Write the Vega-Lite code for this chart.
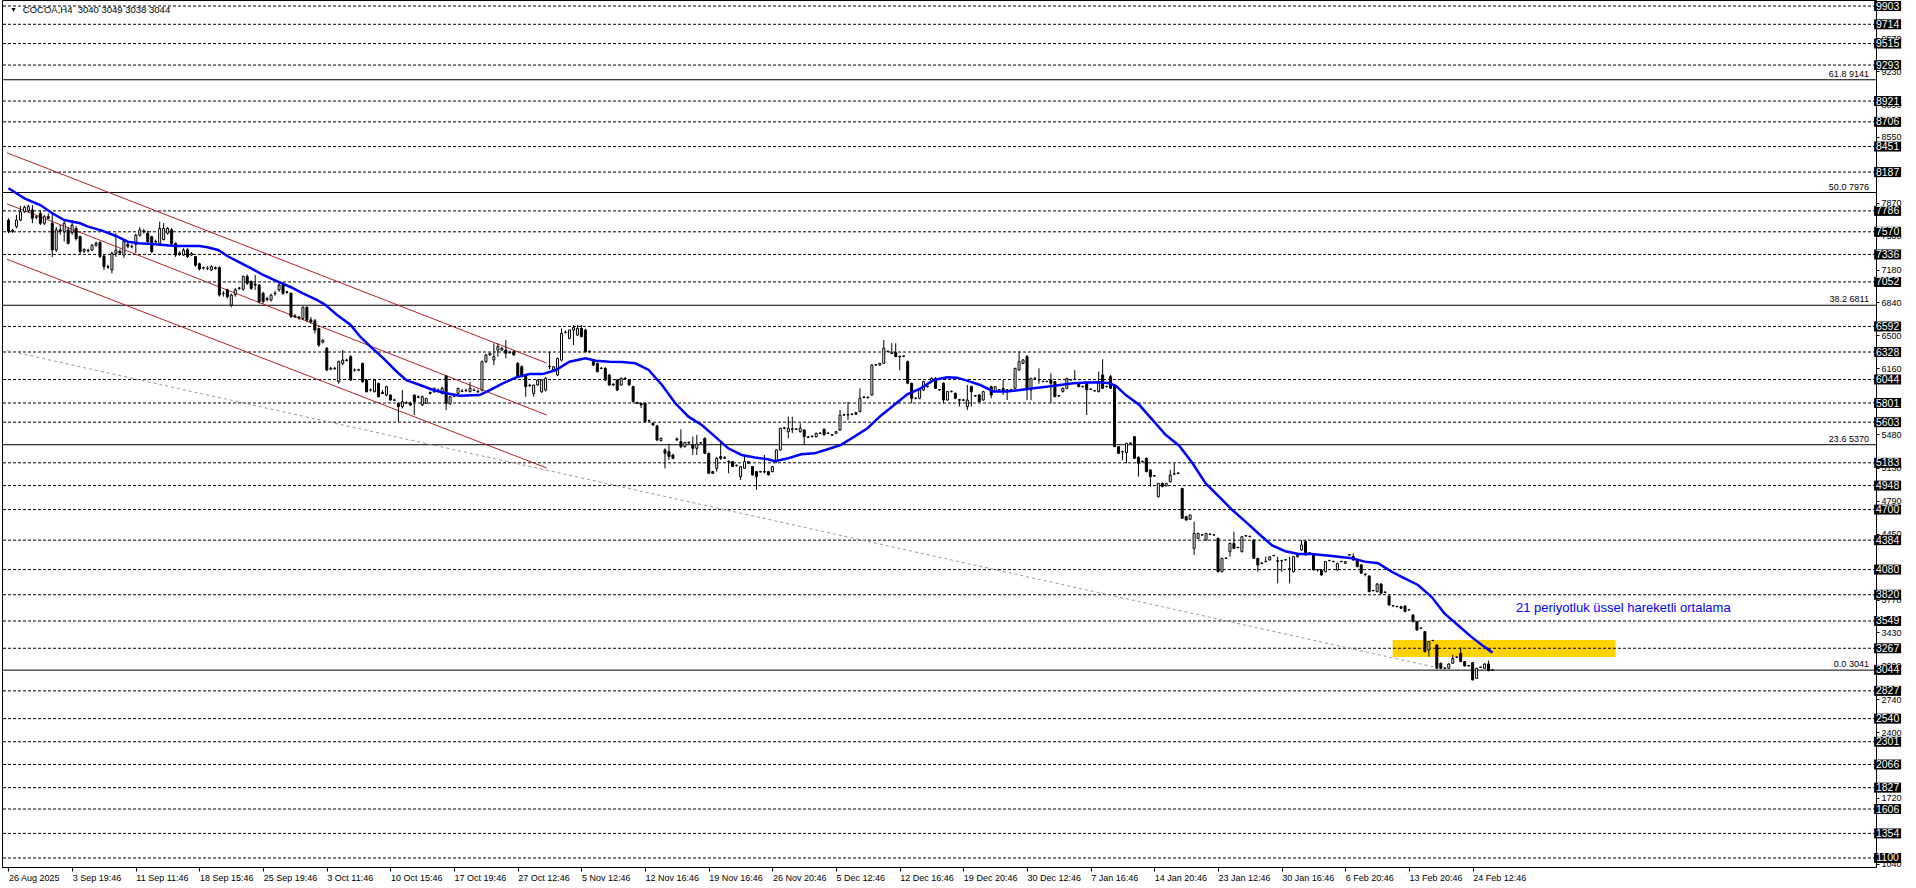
{
"$schema": "https://vega.github.io/schema/vega-lite/v6.json",
"width": 1874, "height": 867,
"autosize": {"type": "none"},
"padding": {"left": 2, "top": 0, "right": 40, "bottom": 21},
"background": "white",
"config": {"view": {"stroke": "black", "strokeWidth": 1}, "font": "Liberation Sans"},
"datasets": {
"candles": [
{"i":0,"o":7690,"h":7710,"l":7555,"c":7575},{"i":1,"o":7585,"h":7600,"l":7560,"c":7575},{"i":2,"o":7624,"h":7744,"l":7606,"c":7692},{"i":3,"o":7692,"h":7837,"l":7680,"c":7778},{"i":4,"o":7778,"h":7840,"l":7765,"c":7822},{"i":5,"o":7790,"h":7850,"l":7770,"c":7830},{"i":6,"o":7795,"h":7847,"l":7658,"c":7710},{"i":7,"o":7720,"h":7740,"l":7700,"c":7725},{"i":8,"o":7760,"h":7790,"l":7640,"c":7658},{"i":9,"o":7658,"h":7745,"l":7640,"c":7727},
{"i":10,"o":7727,"h":7760,"l":7700,"c":7710},{"i":11,"o":7658,"h":7760,"l":7307,"c":7382},{"i":12,"o":7382,"h":7620,"l":7360,"c":7590},{"i":13,"o":7590,"h":7640,"l":7540,"c":7575},{"i":14,"o":7570,"h":7680,"l":7470,"c":7658},{"i":15,"o":7590,"h":7620,"l":7440,"c":7450},{"i":16,"o":7560,"h":7690,"l":7540,"c":7640},{"i":17,"o":7605,"h":7630,"l":7480,"c":7500},{"i":18,"o":7520,"h":7530,"l":7340,"c":7365},{"i":19,"o":7370,"h":7400,"l":7350,"c":7385},
{"i":20,"o":7380,"h":7395,"l":7355,"c":7375},{"i":21,"o":7380,"h":7445,"l":7370,"c":7430},{"i":22,"o":7430,"h":7470,"l":7415,"c":7450},{"i":23,"o":7460,"h":7470,"l":7300,"c":7315},{"i":24,"o":7320,"h":7330,"l":7175,"c":7210},{"i":25,"o":7210,"h":7230,"l":7190,"c":7205},{"i":26,"o":7176,"h":7365,"l":7140,"c":7348},{"i":27,"o":7348,"h":7555,"l":7310,"c":7380},{"i":28,"o":7370,"h":7390,"l":7330,"c":7350},{"i":29,"o":7330,"h":7480,"l":7300,"c":7470},
{"i":30,"o":7440,"h":7460,"l":7400,"c":7420},{"i":31,"o":7420,"h":7440,"l":7400,"c":7415},{"i":32,"o":7440,"h":7550,"l":7350,"c":7535},{"i":33,"o":7535,"h":7620,"l":7520,"c":7590},{"i":34,"o":7580,"h":7600,"l":7550,"c":7570},{"i":35,"o":7555,"h":7580,"l":7450,"c":7470},{"i":36,"o":7520,"h":7530,"l":7350,"c":7365},{"i":37,"o":7470,"h":7490,"l":7450,"c":7465},{"i":38,"o":7450,"h":7675,"l":7440,"c":7605},{"i":39,"o":7490,"h":7660,"l":7480,"c":7605},
{"i":40,"o":7555,"h":7620,"l":7540,"c":7605},{"i":41,"o":7590,"h":7610,"l":7430,"c":7450},{"i":42,"o":7450,"h":7460,"l":7310,"c":7330},{"i":43,"o":7340,"h":7370,"l":7320,"c":7350},{"i":44,"o":7330,"h":7400,"l":7320,"c":7380},{"i":45,"o":7385,"h":7400,"l":7300,"c":7315},{"i":46,"o":7330,"h":7360,"l":7320,"c":7345},{"i":47,"o":7315,"h":7320,"l":7210,"c":7225},{"i":48,"o":7240,"h":7250,"l":7170,"c":7185},{"i":49,"o":7200,"h":7210,"l":7180,"c":7195},
{"i":50,"o":7190,"h":7215,"l":7175,"c":7195},{"i":51,"o":7175,"h":7225,"l":7165,"c":7210},{"i":52,"o":7200,"h":7210,"l":7180,"c":7190},{"i":53,"o":7200,"h":7215,"l":6900,"c":6917},{"i":54,"o":6930,"h":6960,"l":6900,"c":6935},{"i":55,"o":6970,"h":6980,"l":6880,"c":6900},{"i":56,"o":6813,"h":6930,"l":6790,"c":6917},{"i":57,"o":6920,"h":6990,"l":6900,"c":6970},{"i":58,"o":6985,"h":7000,"l":6970,"c":6990},{"i":59,"o":6977,"h":7120,"l":6960,"c":7107},
{"i":60,"o":7107,"h":7130,"l":7020,"c":7038},{"i":61,"o":7055,"h":7070,"l":6970,"c":6985},{"i":62,"o":7030,"h":7124,"l":6970,"c":7020},{"i":63,"o":7020,"h":7030,"l":6830,"c":6848},{"i":64,"o":6935,"h":6950,"l":6830,"c":6848},{"i":65,"o":6880,"h":6900,"l":6850,"c":6870},{"i":66,"o":6865,"h":6930,"l":6850,"c":6915},{"i":67,"o":6930,"h":6960,"l":6910,"c":6935},{"i":68,"o":6970,"h":7040,"l":6950,"c":7020},{"i":69,"o":7020,"h":7050,"l":6920,"c":6935},
{"i":70,"o":6950,"h":6960,"l":6930,"c":6945},{"i":71,"o":6935,"h":6945,"l":6680,"c":6695},{"i":72,"o":6700,"h":6720,"l":6680,"c":6690},{"i":73,"o":6690,"h":6700,"l":6660,"c":6680},{"i":74,"o":6675,"h":6800,"l":6660,"c":6790},{"i":75,"o":6790,"h":6800,"l":6640,"c":6658},{"i":76,"o":6660,"h":6690,"l":6620,"c":6640},{"i":77,"o":6650,"h":6670,"l":6520,"c":6555},{"i":78,"o":6570,"h":6580,"l":6380,"c":6400},{"i":79,"o":6430,"h":6460,"l":6415,"c":6450},
{"i":80,"o":6366,"h":6380,"l":6130,"c":6142},{"i":81,"o":6150,"h":6175,"l":6140,"c":6160},{"i":82,"o":6160,"h":6175,"l":6145,"c":6155},{"i":83,"o":6021,"h":6240,"l":6000,"c":6228},{"i":84,"o":6210,"h":6348,"l":6190,"c":6245},{"i":85,"o":6245,"h":6260,"l":6230,"c":6240},{"i":86,"o":6280,"h":6295,"l":6030,"c":6038},{"i":87,"o":6140,"h":6160,"l":6125,"c":6142},{"i":88,"o":6140,"h":6155,"l":6130,"c":6145},{"i":89,"o":6210,"h":6220,"l":6010,"c":6021},
{"i":90,"o":6038,"h":6050,"l":5910,"c":5918},{"i":91,"o":5935,"h":5950,"l":5920,"c":5935},{"i":92,"o":5918,"h":6050,"l":5910,"c":6038},{"i":93,"o":6004,"h":6010,"l":5860,"c":5866},{"i":94,"o":5910,"h":5935,"l":5895,"c":5900},{"i":95,"o":5883,"h":5980,"l":5870,"c":5970},{"i":96,"o":5883,"h":5890,"l":5825,"c":5832},{"i":97,"o":5832,"h":5845,"l":5820,"c":5830},{"i":98,"o":5797,"h":5810,"l":5608,"c":5763},{"i":99,"o":5763,"h":5935,"l":5745,"c":5814},
{"i":100,"o":5800,"h":5820,"l":5790,"c":5805},{"i":101,"o":5800,"h":5815,"l":5770,"c":5780},{"i":102,"o":5883,"h":5890,"l":5677,"c":5814},{"i":103,"o":5865,"h":5880,"l":5850,"c":5860},{"i":104,"o":5780,"h":5880,"l":5770,"c":5866},{"i":105,"o":5797,"h":5850,"l":5790,"c":5849},{"i":106,"o":5900,"h":5920,"l":5890,"c":5910},{"i":107,"o":5918,"h":5960,"l":5905,"c":5952},{"i":108,"o":5935,"h":5950,"l":5925,"c":5930},{"i":109,"o":5900,"h":5970,"l":5890,"c":5952},
{"i":110,"o":6080,"h":6090,"l":5728,"c":5797},{"i":111,"o":5797,"h":5870,"l":5780,"c":5866},{"i":112,"o":5880,"h":5900,"l":5860,"c":5870},{"i":113,"o":5900,"h":5960,"l":5890,"c":5952},{"i":114,"o":5925,"h":5945,"l":5915,"c":5920},{"i":115,"o":5930,"h":5950,"l":5920,"c":5926},{"i":116,"o":5918,"h":6020,"l":5910,"c":5952},{"i":117,"o":5935,"h":5950,"l":5925,"c":5930},{"i":118,"o":5920,"h":5940,"l":5910,"c":5915},{"i":119,"o":5935,"h":6240,"l":5920,"c":6228},
{"i":120,"o":6228,"h":6310,"l":6215,"c":6297},{"i":121,"o":6297,"h":6320,"l":6290,"c":6314},{"i":122,"o":6245,"h":6417,"l":6190,"c":6280},{"i":123,"o":6348,"h":6417,"l":6280,"c":6383},{"i":124,"o":6348,"h":6380,"l":6340,"c":6366},{"i":125,"o":6348,"h":6452,"l":6262,"c":6314},{"i":126,"o":6325,"h":6340,"l":6310,"c":6320},{"i":127,"o":6331,"h":6345,"l":6290,"c":6297},{"i":128,"o":6210,"h":6225,"l":6065,"c":6073},{"i":129,"o":6176,"h":6190,"l":6080,"c":6090},
{"i":130,"o":6090,"h":6100,"l":5866,"c":5970},{"i":131,"o":5985,"h":6000,"l":5970,"c":5980},{"i":132,"o":5900,"h":5990,"l":5866,"c":5987},{"i":133,"o":5987,"h":6045,"l":5980,"c":6038},{"i":134,"o":5918,"h":6050,"l":5905,"c":6038},{"i":135,"o":5935,"h":6070,"l":5920,"c":6056},{"i":136,"o":6175,"h":6330,"l":6150,"c":6182},{"i":137,"o":6142,"h":6180,"l":6130,"c":6176},{"i":138,"o":6090,"h":6270,"l":6080,"c":6262},{"i":139,"o":6245,"h":6572,"l":6230,"c":6521},
{"i":140,"o":6530,"h":6550,"l":6520,"c":6534},{"i":141,"o":6469,"h":6560,"l":6460,"c":6555},{"i":142,"o":6555,"h":6607,"l":6400,"c":6580},{"i":143,"o":6503,"h":6607,"l":6495,"c":6572},{"i":144,"o":6572,"h":6607,"l":6480,"c":6486},{"i":145,"o":6555,"h":6570,"l":6320,"c":6331},{"i":146,"o":6331,"h":6345,"l":6320,"c":6335},{"i":147,"o":6228,"h":6240,"l":6185,"c":6193},{"i":148,"o":6210,"h":6220,"l":6120,"c":6124},{"i":149,"o":6160,"h":6175,"l":6150,"c":6158},
{"i":150,"o":6159,"h":6170,"l":6030,"c":6038},{"i":151,"o":6090,"h":6100,"l":5980,"c":5987},{"i":152,"o":5995,"h":6005,"l":5980,"c":5987},{"i":153,"o":6038,"h":6050,"l":5925,"c":5935},{"i":154,"o":5987,"h":6065,"l":5980,"c":6056},{"i":155,"o":6056,"h":6070,"l":6040,"c":6050},{"i":156,"o":6039,"h":6050,"l":5980,"c":5987},{"i":157,"o":5970,"h":5980,"l":5810,"c":5815},{"i":158,"o":5805,"h":5815,"l":5790,"c":5798},{"i":159,"o":5798,"h":5805,"l":5750,"c":5781},
{"i":160,"o":5798,"h":5810,"l":5600,"c":5609},{"i":161,"o":5620,"h":5630,"l":5605,"c":5619},{"i":162,"o":5591,"h":5600,"l":5565,"c":5574},{"i":163,"o":5564,"h":5575,"l":5410,"c":5419},{"i":164,"o":5412,"h":5445,"l":5405,"c":5436},{"i":165,"o":5316,"h":5333,"l":5126,"c":5281},{"i":166,"o":5298,"h":5378,"l":5212,"c":5247},{"i":167,"o":5264,"h":5275,"l":5220,"c":5230},{"i":168,"o":5430,"h":5445,"l":5410,"c":5419},{"i":169,"o":5402,"h":5529,"l":5333,"c":5350},
{"i":170,"o":5350,"h":5400,"l":5340,"c":5392},{"i":171,"o":5392,"h":5405,"l":5380,"c":5388},{"i":172,"o":5367,"h":5454,"l":5264,"c":5333},{"i":173,"o":5333,"h":5471,"l":5264,"c":5378},{"i":174,"o":5388,"h":5400,"l":5380,"c":5392},{"i":175,"o":5436,"h":5445,"l":5275,"c":5281},{"i":176,"o":5281,"h":5290,"l":5070,"c":5075},{"i":177,"o":5092,"h":5100,"l":5070,"c":5075},{"i":178,"o":5126,"h":5245,"l":5092,"c":5230},{"i":179,"o":5247,"h":5402,"l":5212,"c":5230},
{"i":180,"o":5230,"h":5250,"l":5225,"c":5240},{"i":181,"o":5200,"h":5205,"l":5075,"c":5195},{"i":182,"o":5195,"h":5200,"l":5140,"c":5144},{"i":183,"o":5158,"h":5165,"l":5145,"c":5154},{"i":184,"o":5040,"h":5150,"l":5006,"c":5144},{"i":185,"o":5126,"h":5264,"l":5120,"c":5195},{"i":186,"o":5195,"h":5200,"l":5175,"c":5178},{"i":187,"o":5144,"h":5150,"l":5050,"c":5058},{"i":188,"o":5092,"h":5100,"l":4903,"c":5040},{"i":189,"o":5088,"h":5100,"l":5085,"c":5092},
{"i":190,"o":5092,"h":5264,"l":5075,"c":5088},{"i":191,"o":5092,"h":5100,"l":5055,"c":5058},{"i":192,"o":5092,"h":5150,"l":5085,"c":5144},{"i":193,"o":5195,"h":5320,"l":5180,"c":5316},{"i":194,"o":5316,"h":5545,"l":5310,"c":5540},{"i":195,"o":5540,"h":5555,"l":5530,"c":5545},{"i":196,"o":5505,"h":5660,"l":5436,"c":5540},{"i":197,"o":5534,"h":5660,"l":5490,"c":5530},{"i":198,"o":5530,"h":5540,"l":5520,"c":5534},{"i":199,"o":5505,"h":5590,"l":5495,"c":5540},
{"i":200,"o":5522,"h":5530,"l":5367,"c":5454},{"i":201,"o":5450,"h":5460,"l":5440,"c":5447},{"i":202,"o":5458,"h":5465,"l":5445,"c":5454},{"i":203,"o":5454,"h":5495,"l":5445,"c":5488},{"i":204,"o":5490,"h":5500,"l":5480,"c":5486},{"i":205,"o":5529,"h":5540,"l":5465,"c":5471},{"i":206,"o":5486,"h":5500,"l":5480,"c":5490},{"i":207,"o":5474,"h":5480,"l":5460,"c":5470},{"i":208,"o":5488,"h":5510,"l":5480,"c":5505},{"i":209,"o":5522,"h":5729,"l":5515,"c":5677},
{"i":210,"o":5677,"h":5690,"l":5670,"c":5680},{"i":211,"o":5682,"h":5815,"l":5625,"c":5678},{"i":212,"o":5684,"h":5695,"l":5675,"c":5686},{"i":213,"o":5702,"h":5710,"l":5680,"c":5684},{"i":214,"o":5712,"h":5953,"l":5705,"c":5850},{"i":215,"o":5864,"h":5870,"l":5850,"c":5860},{"i":216,"o":5860,"h":5870,"l":5850,"c":5856},{"i":217,"o":5884,"h":6200,"l":5875,"c":6194},{"i":218,"o":6197,"h":6205,"l":6185,"c":6194},{"i":219,"o":6194,"h":6215,"l":6185,"c":6211},
{"i":220,"o":6211,"h":6452,"l":6205,"c":6366},{"i":221,"o":6335,"h":6345,"l":6325,"c":6332},{"i":222,"o":6315,"h":6420,"l":6305,"c":6318},{"i":223,"o":6322,"h":6418,"l":6275,"c":6280},{"i":224,"o":6284,"h":6290,"l":6140,"c":6278},{"i":225,"o":6285,"h":6295,"l":6275,"c":6287},{"i":226,"o":6228,"h":6240,"l":5995,"c":6005},{"i":227,"o":6005,"h":6010,"l":5798,"c":5850},{"i":228,"o":5850,"h":5860,"l":5840,"c":5852},{"i":229,"o":5850,"h":5945,"l":5840,"c":5936},
{"i":230,"o":5936,"h":6030,"l":5925,"c":6022},{"i":231,"o":5974,"h":5980,"l":5960,"c":5970},{"i":232,"o":6022,"h":6065,"l":6010,"c":6056},{"i":233,"o":6056,"h":6070,"l":5945,"c":5953},{"i":234,"o":5940,"h":5945,"l":5925,"c":5936},{"i":235,"o":6005,"h":6015,"l":5798,"c":5832},{"i":236,"o":5832,"h":5925,"l":5825,"c":5919},{"i":237,"o":5919,"h":5930,"l":5910,"c":5922},{"i":238,"o":5901,"h":5910,"l":5840,"c":5850},{"i":239,"o":5836,"h":5845,"l":5764,"c":5830},
{"i":240,"o":5830,"h":5840,"l":5820,"c":5834},{"i":241,"o":5764,"h":5987,"l":5729,"c":5832},{"i":242,"o":5970,"h":5980,"l":5764,"c":5919},{"i":243,"o":5878,"h":5885,"l":5865,"c":5874},{"i":244,"o":5884,"h":5895,"l":5810,"c":5815},{"i":245,"o":5832,"h":5925,"l":5825,"c":5919},{"i":246,"o":5956,"h":5960,"l":5945,"c":5953},{"i":247,"o":5970,"h":5980,"l":5850,"c":5884},{"i":248,"o":5919,"h":5975,"l":5910,"c":5970},{"i":249,"o":5940,"h":5945,"l":5930,"c":5936},
{"i":250,"o":5953,"h":6039,"l":5884,"c":5919},{"i":251,"o":5938,"h":5945,"l":5832,"c":5935},{"i":252,"o":5938,"h":5945,"l":5930,"c":5936},{"i":253,"o":5953,"h":6165,"l":5945,"c":6159},{"i":254,"o":6142,"h":6332,"l":6135,"c":6228},{"i":255,"o":6211,"h":6255,"l":6205,"c":6246},{"i":256,"o":6280,"h":6297,"l":5832,"c":5953},{"i":257,"o":5936,"h":6060,"l":5832,"c":6056},{"i":258,"o":6058,"h":6065,"l":6050,"c":6056},{"i":259,"o":6042,"h":6160,"l":6000,"c":6039},
{"i":260,"o":6025,"h":6030,"l":6015,"c":6022},{"i":261,"o":6022,"h":6030,"l":6015,"c":6025},{"i":262,"o":6039,"h":6108,"l":5798,"c":6005},{"i":263,"o":6022,"h":6030,"l":5860,"c":5867},{"i":264,"o":5878,"h":5885,"l":5865,"c":5874},{"i":265,"o":5919,"h":5960,"l":5910,"c":5953},{"i":266,"o":5953,"h":6060,"l":5945,"c":6056},{"i":267,"o":6042,"h":6045,"l":6030,"c":6039},{"i":268,"o":6043,"h":6142,"l":6040,"c":6046},{"i":269,"o":6005,"h":6015,"l":5965,"c":5970},
{"i":270,"o":5973,"h":5980,"l":5960,"c":5970},{"i":271,"o":6012,"h":6020,"l":5677,"c":5936},{"i":272,"o":5946,"h":5950,"l":5935,"c":5943},{"i":273,"o":5928,"h":5935,"l":5920,"c":5926},{"i":274,"o":5919,"h":6125,"l":5910,"c":6022},{"i":275,"o":6091,"h":6253,"l":5945,"c":5953},{"i":276,"o":5973,"h":5980,"l":5960,"c":5970},{"i":277,"o":6073,"h":6090,"l":5950,"c":5953},{"i":278,"o":5987,"h":5990,"l":5345,"c":5350},{"i":279,"o":5350,"h":5355,"l":5275,"c":5281},
{"i":280,"o":5298,"h":5310,"l":5212,"c":5295},{"i":281,"o":5288,"h":5390,"l":5178,"c":5384},{"i":282,"o":5387,"h":5395,"l":5375,"c":5384},{"i":283,"o":5453,"h":5460,"l":5225,"c":5229},{"i":284,"o":5240,"h":5250,"l":5040,"c":5178},{"i":285,"o":5198,"h":5205,"l":5185,"c":5195},{"i":286,"o":5229,"h":5240,"l":5085,"c":5092},{"i":287,"o":5109,"h":5115,"l":4937,"c":5040},{"i":288,"o":5050,"h":5055,"l":5040,"c":5047},{"i":289,"o":4833,"h":4975,"l":4825,"c":4971},
{"i":290,"o":4971,"h":4980,"l":4930,"c":4937},{"i":291,"o":4945,"h":4975,"l":4940,"c":4971},{"i":292,"o":4988,"h":5109,"l":4980,"c":5057},{"i":293,"o":5069,"h":5178,"l":5060,"c":5066},{"i":294,"o":5077,"h":5085,"l":5065,"c":5074},{"i":295,"o":4919,"h":4925,"l":4605,"c":4609},{"i":296,"o":4627,"h":4635,"l":4585,"c":4592},{"i":297,"o":4599,"h":4650,"l":4595,"c":4644},{"i":298,"o":4299,"h":4575,"l":4231,"c":4454},{"i":299,"o":4403,"h":4460,"l":4395,"c":4454},
{"i":300,"o":4440,"h":4445,"l":4430,"c":4437},{"i":301,"o":4386,"h":4455,"l":4380,"c":4454},{"i":302,"o":4447,"h":4452,"l":4438,"c":4444},{"i":303,"o":4440,"h":4445,"l":4430,"c":4437},{"i":304,"o":4403,"h":4410,"l":4050,"c":4058},{"i":305,"o":4058,"h":4200,"l":4050,"c":4196},{"i":306,"o":4199,"h":4205,"l":4190,"c":4196},{"i":307,"o":4265,"h":4360,"l":4213,"c":4351},{"i":308,"o":4351,"h":4472,"l":4290,"c":4299},{"i":309,"o":4310,"h":4315,"l":4300,"c":4307},
{"i":310,"o":4265,"h":4425,"l":4258,"c":4420},{"i":311,"o":4430,"h":4435,"l":4420,"c":4427},{"i":312,"o":4423,"h":4430,"l":4415,"c":4420},{"i":313,"o":4386,"h":4395,"l":4190,"c":4196},{"i":314,"o":4196,"h":4200,"l":4058,"c":4127},{"i":315,"o":4148,"h":4155,"l":4140,"c":4145},{"i":316,"o":4165,"h":4213,"l":4155,"c":4162},{"i":317,"o":4179,"h":4215,"l":4175,"c":4213},{"i":318,"o":4227,"h":4230,"l":4218,"c":4224},{"i":319,"o":4172,"h":4213,"l":3938,"c":4165},
{"i":320,"o":4175,"h":4180,"l":4058,"c":4172},{"i":321,"o":4182,"h":4185,"l":4175,"c":4179},{"i":322,"o":4090,"h":4213,"l":3938,"c":4076},{"i":323,"o":4058,"h":4220,"l":4050,"c":4213},{"i":324,"o":4213,"h":4240,"l":4205,"c":4230},{"i":325,"o":4282,"h":4385,"l":4275,"c":4335},{"i":326,"o":4369,"h":4386,"l":4225,"c":4231},{"i":327,"o":4253,"h":4258,"l":4244,"c":4250},{"i":328,"o":4231,"h":4240,"l":4070,"c":4076},{"i":329,"o":4079,"h":4084,"l":4059,"c":4076},
{"i":330,"o":4076,"h":4085,"l":4015,"c":4024},{"i":331,"o":4059,"h":4170,"l":4050,"c":4162},{"i":332,"o":4175,"h":4180,"l":4165,"c":4172},{"i":333,"o":4165,"h":4170,"l":4155,"c":4162},{"i":334,"o":4076,"h":4150,"l":4070,"c":4145},{"i":335,"o":4165,"h":4170,"l":4155,"c":4162},{"i":336,"o":4145,"h":4165,"l":4140,"c":4162},{"i":337,"o":4234,"h":4240,"l":4225,"c":4231},{"i":338,"o":4214,"h":4248,"l":4170,"c":4179},{"i":339,"o":4179,"h":4185,"l":4105,"c":4110},
{"i":340,"o":4128,"h":4135,"l":4035,"c":4042},{"i":341,"o":4034,"h":4038,"l":4010,"c":4031},{"i":342,"o":4014,"h":4020,"l":3845,"c":3852},{"i":343,"o":3865,"h":3870,"l":3855,"c":3862},{"i":344,"o":3852,"h":3940,"l":3845,"c":3931},{"i":345,"o":3931,"h":3938,"l":3830,"c":3835},{"i":346,"o":3848,"h":3852,"l":3840,"c":3845},{"i":347,"o":3807,"h":3815,"l":3710,"c":3714},{"i":348,"o":3707,"h":3712,"l":3698,"c":3704},{"i":349,"o":3700,"h":3705,"l":3690,"c":3697},
{"i":350,"o":3697,"h":3705,"l":3675,"c":3680},{"i":351,"o":3704,"h":3712,"l":3640,"c":3646},{"i":352,"o":3666,"h":3670,"l":3656,"c":3663},{"i":353,"o":3611,"h":3618,"l":3535,"c":3542},{"i":354,"o":3542,"h":3548,"l":3450,"c":3456},{"i":355,"o":3476,"h":3480,"l":3466,"c":3473},{"i":356,"o":3439,"h":3445,"l":3225,"c":3232},{"i":357,"o":3249,"h":3340,"l":3181,"c":3336},{"i":358,"o":3349,"h":3352,"l":3340,"c":3346},{"i":359,"o":3301,"h":3310,"l":3055,"c":3060},
{"i":360,"o":3112,"h":3120,"l":3055,"c":3060},{"i":361,"o":3063,"h":3066,"l":3054,"c":3060},{"i":362,"o":3060,"h":3110,"l":3055,"c":3105},{"i":363,"o":3112,"h":3198,"l":3105,"c":3163},{"i":364,"o":3177,"h":3180,"l":3168,"c":3174},{"i":365,"o":3215,"h":3277,"l":3125,"c":3129},{"i":366,"o":3129,"h":3135,"l":3080,"c":3084},{"i":367,"o":3087,"h":3090,"l":3078,"c":3084},{"i":368,"o":3118,"h":3125,"l":2935,"c":2940},{"i":369,"o":2957,"h":3065,"l":2950,"c":3060},
{"i":370,"o":3073,"h":3076,"l":3064,"c":3070},{"i":371,"o":3060,"h":3110,"l":3055,"c":3105},{"i":372,"o":3105,"h":3139,"l":3030,"c":3036},{"i":373,"o":3040,"h":3049,"l":3038,"c":3044}
],
"ema": [
{"i":0,"v":8020},{"i":2,"v":7968},{"i":4,"v":7916},{"i":8,"v":7847},{"i":11,"v":7761},{"i":14,"v":7692},{"i":18,"v":7658},{"i":20,"v":7623},{"i":23.5,"v":7582},{"i":27,"v":7527},{"i":30,"v":7468},{"i":32.7,"v":7451},{"i":36,"v":7444},{"i":39,"v":7434},{"i":42,"v":7424},{"i":48,"v":7424},{"i":50,"v":7410},{"i":52.7,"v":7382},{"i":55,"v":7320},{"i":57.7,"v":7262},{"i":61,"v":7193},{"i":64,"v":7124},{"i":67.7,"v":7055},{"i":71,"v":6997},{"i":74,"v":6935},{"i":77.6,"v":6865},{"i":79.7,"v":6813},{"i":82.6,"v":6710},{"i":86,"v":6607},{"i":88.4,"v":6486},{"i":91,"v":6383},{"i":94.25,"v":6262},{"i":97.6,"v":6124},{"i":100,"v":6038},{"i":103.4,"v":5987},{"i":106.75,"v":5935},{"i":110,"v":5901},{"i":113.4,"v":5877},{"i":118.4,"v":5883},{"i":121,"v":5935},{"i":124.25,"v":6004},{"i":127.6,"v":6066},{"i":131,"v":6100},{"i":134.25,"v":6100},{"i":137.6,"v":6142},{"i":141,"v":6228},{"i":145,"v":6262},{"i":147.6,"v":6238},{"i":151,"v":6228},{"i":154.25,"v":6225},{"i":157.6,"v":6211},{"i":160.9,"v":6142},{"i":164.25,"v":5987},{"i":167.6,"v":5798},{"i":170.9,"v":5660},{"i":174.25,"v":5574},{"i":177.6,"v":5454},{"i":180.9,"v":5333},{"i":184.25,"v":5264},{"i":187.6,"v":5237},{"i":190.9,"v":5219},{"i":192.6,"v":5200},{"i":196,"v":5230},{"i":199.25,"v":5271},{"i":202.6,"v":5281},{"i":205.9,"v":5323},{"i":209.25,"v":5368},{"i":212.6,"v":5454},{"i":215.9,"v":5540},{"i":219.25,"v":5670},{"i":222.6,"v":5781},{"i":225.9,"v":5890},{"i":229.25,"v":5953},{"i":232.6,"v":6039},{"i":235.9,"v":6067},{"i":238.4,"v":6063},{"i":240.9,"v":6032},{"i":244.25,"v":5987},{"i":247.6,"v":5919},{"i":250.9,"v":5919},{"i":254.25,"v":5936},{"i":257.6,"v":5953},{"i":260.9,"v":5970},{"i":264.25,"v":5987},{"i":267.6,"v":6005},{"i":270.9,"v":6012},{"i":274.25,"v":6015},{"i":276.75,"v":6005},{"i":278.4,"v":5975},{"i":280.9,"v":5880},{"i":284.25,"v":5780},{"i":287.6,"v":5625},{"i":290.9,"v":5470},{"i":294.25,"v":5360},{"i":297.6,"v":5178},{"i":300.9,"v":4971},{"i":304.25,"v":4833},{"i":307.6,"v":4695},{"i":310.9,"v":4575},{"i":314.25,"v":4450},{"i":317.6,"v":4330},{"i":320.9,"v":4270},{"i":324.25,"v":4241},{"i":327.6,"v":4241},{"i":332.6,"v":4221},{"i":337.6,"v":4197},{"i":340.9,"v":4162},{"i":344.25,"v":4145},{"i":347.6,"v":4059},{"i":350.9,"v":3990},{"i":354.25,"v":3921},{"i":357.6,"v":3801},{"i":360.9,"v":3628},{"i":364.25,"v":3508},{"i":367.6,"v":3387},{"i":370.9,"v":3284},{"i":373,"v":3222}
],
"levels": [{"v":9903},{"v":9714},{"v":9515},{"v":9293},{"v":8921},{"v":8706},{"v":8451},{"v":8187},{"v":7786},{"v":7570},{"v":7336},{"v":7052},{"v":6592},{"v":6328},{"v":6044},{"v":5801},{"v":5603},{"v":5183},{"v":4948},{"v":4700},{"v":4384},{"v":4080},{"v":3820},{"v":3549},{"v":3267},{"v":2827},{"v":2540},{"v":2301},{"v":2066},{"v":1827},{"v":1606},{"v":1354},{"v":1100}],
"boxes": [{"v":9903},{"v":9714},{"v":9515},{"v":9293},{"v":8921},{"v":8706},{"v":8451},{"v":8187},{"v":7786},{"v":7570},{"v":7336},{"v":7052},{"v":6592},{"v":6328},{"v":6044},{"v":5801},{"v":5603},{"v":5183},{"v":4948},{"v":4700},{"v":4384},{"v":4080},{"v":3820},{"v":3549},{"v":3267},{"v":3044},{"v":2827},{"v":2540},{"v":2301},{"v":2066},{"v":1827},{"v":1606},{"v":1354},{"v":1100}],
"fibs": [{"v":9141,"t":"61.8 9141"},{"v":7976,"t":"50.0 7976"},{"v":6811,"t":"38.2 6811"},{"v":5370,"t":"23.6 5370"},{"v":3041,"t":"0.0 3041"}],
"channel": [{"g":"u","i":-0.375,"v":8386},{"g":"u","i":135.25,"v":6214},{"g":"m","i":-0.375,"v":7859},{"g":"m","i":135.25,"v":5677},{"g":"d","i":-0.375,"v":7286},{"g":"d","i":135.25,"v":5130}],
"trend": [{"i":-0.375,"v":6343},{"i":359.25,"v":3065}],
"zone": [{"x1":347.9,"x2":403.9,"y1":3177,"y2":3353}]
},
"layer": [
{"data": {"name": "zone"}, "mark": {"type": "rect", "color": "#FFD200"},
 "encoding": {"x": {"field": "x1", "type": "quantitative", "scale": {"domain": [-0.375, 468.125], "nice": false, "zero": false}}, "x2": {"field": "x2"},
  "y": {"field": "y1", "type": "quantitative", "scale": {"domain": [1007, 9965], "nice": false, "zero": false}}, "y2": {"field": "y2"}}},
{"data": {"name": "levels"}, "mark": {"type": "rule", "color": "black", "strokeWidth": 1, "strokeDash": [3, 2]},
 "encoding": {"y": {"field": "v", "type": "quantitative", "scale": {"domain": [1007, 9965], "nice": false, "zero": false}}}},
{"data": {"name": "fibs"}, "mark": {"type": "rule", "color": "black", "strokeWidth": 1},
 "encoding": {"y": {"field": "v", "type": "quantitative", "scale": {"domain": [1007, 9965], "nice": false, "zero": false}}}},
{"data": {"name": "fibs"}, "mark": {"type": "text", "align": "right", "baseline": "bottom", "dy": -1, "fontSize": 9, "font": "Liberation Sans", "color": "black"},
 "encoding": {"x": {"datum": 467.6, "type": "quantitative", "scale": {"domain": [-0.375, 468.125], "nice": false, "zero": false}},
  "y": {"field": "v", "type": "quantitative", "scale": {"domain": [1007, 9965], "nice": false, "zero": false}}, "text": {"field": "t"}}},
{"data": {"name": "channel"}, "mark": {"type": "line", "color": "#B22222", "strokeWidth": 1},
 "encoding": {"x": {"field": "i", "type": "quantitative", "scale": {"domain": [-0.375, 468.125], "nice": false, "zero": false}},
  "y": {"field": "v", "type": "quantitative", "scale": {"domain": [1007, 9965], "nice": false, "zero": false}}, "detail": {"field": "g"}}},
{"data": {"name": "trend"}, "mark": {"type": "line", "color": "#999999", "strokeWidth": 1, "strokeDash": [3, 3]},
 "encoding": {"x": {"field": "i", "type": "quantitative", "scale": {"domain": [-0.375, 468.125], "nice": false, "zero": false}},
  "y": {"field": "v", "type": "quantitative", "scale": {"domain": [1007, 9965], "nice": false, "zero": false}}}},
{"data": {"name": "candles"}, "mark": {"type": "rule", "color": "black", "strokeWidth": 1},
 "encoding": {"x": {"field": "i", "type": "quantitative", "scale": {"domain": [-0.375, 468.125], "nice": false, "zero": false},
   "axis": {"title": null, "orient": "bottom", "values": [0,16,32,48,64,80,96,112,128,144,160,176,192,208,224,240,256,272,288,304,320,336,352,368], "grid": false, "domain": true, "domainColor": "black", "ticks": true, "tickColor": "black", "tickSize": 4, "labels": true, "labelAlign": "left", "labelDx": 2, "labelPadding": 2, "labelFontSize": 9, "labelFont": "Liberation Sans", "labelColor": "black", "labelOverlap": false, "labelFlush": false, "labelBound": false,
   "labelExpr": "['26 Aug 2025','3 Sep 19:46','11 Sep 11:46','18 Sep 15:46','25 Sep 19:46','3 Oct 11:46','10 Oct 15:46','17 Oct 19:46','27 Oct 12:46','5 Nov 12:46','12 Nov 16:46','19 Nov 16:46','26 Nov 20:46','5 Dec 12:46','12 Dec 16:46','19 Dec 20:46','30 Dec 12:46','7 Jan 16:46','14 Jan 20:46','23 Jan 12:46','30 Jan 16:46','6 Feb 20:46','13 Feb 20:46','24 Feb 12:46'][round(datum.value/16)]"}},
  "y": {"field": "l", "type": "quantitative", "scale": {"domain": [1007, 9965], "nice": false, "zero": false},
   "axis": {"title": null, "orient": "right", "format": "d", "values": [1040,1720,2400,2740,3090,3430,3770,4450,4790,5130,5480,6160,6500,6840,7180,7530,7870,8550,8890,9230,9570], "grid": false, "domain": true, "domainColor": "black", "ticks": true, "tickColor": "black", "tickSize": 3, "labels": true, "labelPadding": 2, "labelFontSize": 9, "labelFont": "Liberation Sans", "labelColor": "black", "labelOverlap": false, "labelFlush": false, "labelBound": false}},
  "y2": {"field": "h"}}},
{"data": {"name": "candles"}, "mark": {"type": "bar", "width": 2, "stroke": "black", "strokeWidth": 1},
 "encoding": {"x": {"field": "i", "type": "quantitative", "scale": {"domain": [-0.375, 468.125], "nice": false, "zero": false}},
  "y": {"field": "o", "type": "quantitative", "scale": {"domain": [1007, 9965], "nice": false, "zero": false}}, "y2": {"field": "c"},
  "fill": {"condition": {"test": "datum.c >= datum.o", "value": "white"}, "value": "black"}}},
{"data": {"name": "ema"}, "mark": {"type": "line", "color": "#0000FF", "strokeWidth": 2.5},
 "encoding": {"x": {"field": "i", "type": "quantitative", "scale": {"domain": [-0.375, 468.125], "nice": false, "zero": false}},
  "y": {"field": "v", "type": "quantitative", "scale": {"domain": [1007, 9965], "nice": false, "zero": false}}}},
{"data": {"values": [{"i": 378.9, "v": 3642, "t": "21 periyotluk üssel hareketli ortalama"}]}, "mark": {"type": "text", "align": "left", "baseline": "alphabetic", "fontSize": 13, "font": "Liberation Sans", "color": "#0000FF"},
 "encoding": {"x": {"field": "i", "type": "quantitative", "scale": {"domain": [-0.375, 468.125], "nice": false, "zero": false}},
  "y": {"field": "v", "type": "quantitative", "scale": {"domain": [1007, 9965], "nice": false, "zero": false}}, "text": {"field": "t"}}},
{"data": {"values": [{"i": 0.4, "v": 9862, "t": "▼", "s": 7}, {"i": 3.6, "v": 9862, "t": "COCOA,H4\u00a0 3040 3049 3038 3044", "s": 9.5}]}, "mark": {"type": "text", "align": "left", "baseline": "middle", "font": "Liberation Sans", "color": "black"},
 "encoding": {"x": {"field": "i", "type": "quantitative", "scale": {"domain": [-0.375, 468.125], "nice": false, "zero": false}},
  "y": {"field": "v", "type": "quantitative", "scale": {"domain": [1007, 9965], "nice": false, "zero": false}}, "text": {"field": "t"},
  "size": {"field": "s", "type": "quantitative", "scale": null}}},
{"data": {"name": "boxes"}, "mark": {"type": "point", "shape": "M-1,-0.37H1V0.37H-1Z", "size": 729, "filled": true, "color": "black", "opacity": 1, "strokeWidth": 0},
 "encoding": {"x": {"datum": 472.3, "type": "quantitative", "scale": {"domain": [-0.375, 468.125], "nice": false, "zero": false}},
  "y": {"field": "v", "type": "quantitative", "scale": {"domain": [1007, 9965], "nice": false, "zero": false}}}},
{"data": {"name": "boxes"}, "mark": {"type": "text", "align": "center", "baseline": "middle", "fontSize": 10.5, "font": "Liberation Sans", "color": "white", "dy": 0.5},
 "encoding": {"x": {"datum": 472.3, "type": "quantitative", "scale": {"domain": [-0.375, 468.125], "nice": false, "zero": false}},
  "y": {"field": "v", "type": "quantitative", "scale": {"domain": [1007, 9965], "nice": false, "zero": false}}, "text": {"field": "v", "type": "quantitative", "format": "d"}}}
]
}
